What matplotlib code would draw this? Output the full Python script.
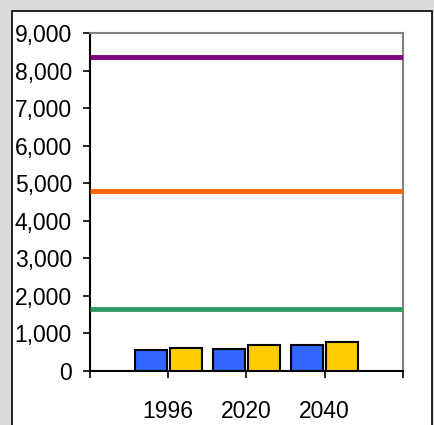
import matplotlib.pyplot as plt
from matplotlib.patches import Rectangle
import numpy as np

plt.rcParams['font.family'] = ['Liberation Sans', 'DejaVu Sans']

# data
years = ['1996', '2020', '2040']
series_a = [560, 580, 700]      # blue bars
series_b = [610, 680, 770]      # yellow bars
level_top = 8350                # purple line
level_mid = 4800                # orange line
level_low = 1660                # green line

fig = plt.figure(figsize=(4.35, 4.25), dpi=100)
fig.patch.set_facecolor('#dcdcdc')

# white panel with black border, drawn behind the axes
panel = Rectangle((12 / 435, -0.05), 420 / 435, 1 - 11 / 425 + 0.05,
                  transform=fig.transFigure, facecolor='white',
                  edgecolor='black', linewidth=1.2, zorder=-1)
fig.patches.append(panel)

ax = fig.add_axes([90 / 435, 1 - 371 / 425, 313 / 435, 338 / 425])
ax.set_facecolor('white')

x = np.arange(1, len(years) + 1)
w = 0.41
ax.bar(x - 0.225, series_a, width=w, color='#3366ff', edgecolor='black', linewidth=1.5, zorder=3)
ax.bar(x + 0.225, series_b, width=w, color='#ffcc00', edgecolor='black', linewidth=1.5, zorder=3)

for val, col in [(level_top, '#800080'), (level_mid, '#ff6600'), (level_low, '#339966')]:
    ax.plot([0, 4], [val, val], color=col, linewidth=3.5, zorder=4, solid_capstyle='butt')

ax.set_xlim(0, 4)
ax.set_ylim(0, 9000)
ax.set_yticks(range(0, 9001, 1000))
ax.set_yticklabels([f'{v:,}' for v in range(0, 9001, 1000)])
ax.set_xticks([0, 1, 2, 3, 4])
ax.set_xticklabels([''] + years + [''])

ax.tick_params(axis='y', direction='out', length=5, width=1.2, labelsize=16.5, pad=8, colors='black')
ax.tick_params(axis='x', direction='out', length=5, width=1.2, labelsize=16.5, pad=16, colors='black')

ax.spines['left'].set_color('black')
ax.spines['bottom'].set_color('black')
ax.spines['top'].set_color('#808080')
ax.spines['right'].set_color('#808080')
for s in ax.spines.values():
    s.set_linewidth(1.5)

fig.savefig('out.png', dpi=100, facecolor=fig.get_facecolor())
